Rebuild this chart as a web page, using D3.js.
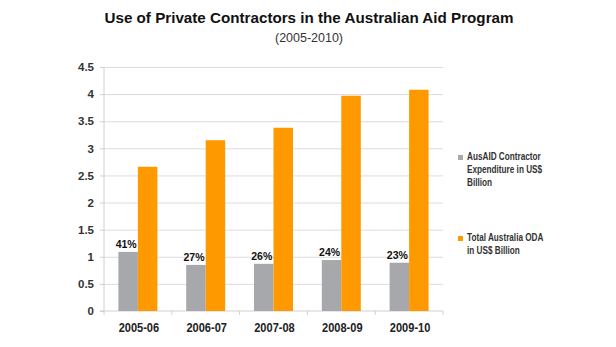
<!DOCTYPE html>
<html>
<head>
<meta charset="utf-8">
<script src="https://cdn.jsdelivr.net/npm/d3@7"></script>
<style>
  body { margin: 0; background: #fff; }
  text { font-family: "Liberation Sans", Arial, sans-serif; }
</style>
</head>
<body>
<div id="chart"></div>
<script>
// data
var years = ["2005-06", "2006-07", "2007-08", "2008-09", "2009-10"];
var contractor = [1.09, 0.85, 0.87, 0.94, 0.89];
var oda = [2.66, 3.15, 3.38, 3.97, 4.08];
var shares = ["41%", "27%", "26%", "24%", "23%"];
var yTicks = [0, 0.5, 1, 1.5, 2, 2.5, 3, 3.5, 4, 4.5];
var seriesNames = ["contractor", "oda"];
var legendLines = [
  ["AusAID Contractor", "Expenditure in US$", "Billion"],
  ["Total Australia ODA", "in US$ Billion"]
];

var grey = "#a7a8ab", orange = "#ff9900";

// squeeze text horizontally to mimic a condensed face
function squeeze(sel, k) {
  sel.each(function() {
    var w = this.getComputedTextLength();
    d3.select(this).attr("textLength", w * k).attr("lengthAdjust", "spacingAndGlyphs");
  });
}

// margins
var margin = {top: 67, right: 173, bottom: 36, left: 104},
    width = 616 - margin.left - margin.right,
    height = 347 - margin.top - margin.bottom;

var root = d3.select("#chart").append("svg")
    .attr("width", 616)
    .attr("height", 347);

// title
root.append("text")
    .attr("x", 309).attr("y", 23)
    .attr("text-anchor", "middle")
    .style("font-weight", "bold")
    .style("font-size", "15.5px")
    .attr("textLength", 409)
    .attr("lengthAdjust", "spacingAndGlyphs")
    .attr("fill", "#111")
    .text("Use of Private Contractors in the Australian Aid Program");

root.append("text")
    .attr("x", 309).attr("y", 42)
    .attr("text-anchor", "middle")
    .style("font-size", "12px")
    .attr("textLength", 68)
    .attr("lengthAdjust", "spacingAndGlyphs")
    .attr("fill", "#333")
    .text("(2005-2010)");

var svg = root.append("g")
    .attr("transform", "translate(" + margin.left + "," + margin.top + ")");

var x0 = d3.scaleBand()
    .domain(years)
    .range([0, width])
    .paddingInner(0.425)
    .paddingOuter(0.2125);

var x1 = d3.scaleBand()
    .domain(seriesNames)
    .range([0, x0.bandwidth()]);

var y = d3.scaleLinear()
    .domain([0, 4.5])
    .range([height, 0]);

// gridlines
svg.append("g")
    .attr("class", "grid")
    .call(d3.axisLeft(y).tickValues(yTicks.slice(1)).tickSize(-width).tickFormat(""))
    .call(function(g) { g.select(".domain").remove(); })
    .selectAll("line")
    .attr("stroke", "#dcdcdc");

// y axis
svg.append("g")
    .attr("class", "axis")
    .call(d3.axisLeft(y).tickValues(yTicks).tickSize(4).tickPadding(6)
      .tickFormat(function(d) { return String(d); }))
    .call(function(g) {
      g.select(".domain").attr("stroke", "#d0d0d0").attr("d", "M0,0V" + height);
      g.selectAll("line").attr("stroke", "#d0d0d0");
      g.selectAll("text")
        .style("font-family", '"Liberation Sans", Arial, sans-serif')
        .style("font-weight", "bold")
        .style("font-size", "11.5px")
        .attr("fill", "#333");
    });

// x axis: line, labels centred, ticks at band edges
var xAxis = svg.append("g")
    .attr("transform", "translate(0," + height + ")");

xAxis.append("line")
    .attr("x1", -4).attr("x2", width)
    .attr("stroke", "#d0d0d0");

xAxis.selectAll(".edge")
    .data(d3.range(years.length + 1))
    .enter().append("line")
    .attr("class", "edge")
    .attr("x1", function(i) { return i * x0.step(); })
    .attr("x2", function(i) { return i * x0.step(); })
    .attr("y1", 0).attr("y2", 4)
    .attr("stroke", "#d0d0d0");

xAxis.selectAll(".lab")
    .data(years)
    .enter().append("text")
    .attr("class", "lab")
    .attr("x", function(d) { return x0(d) + x0.bandwidth() / 2 + 1; })
    .attr("y", 21)
    .attr("text-anchor", "middle")
    .style("font-weight", "bold")
    .style("font-size", "12px")
    .attr("fill", "#222")
    .text(function(d) { return d; })
    .call(squeeze, 0.92);

// bars
var groups = svg.selectAll(".year")
    .data(years)
    .enter().append("g")
    .attr("class", "year")
    .attr("transform", function(d) { return "translate(" + x0(d) + ",0)"; });

groups.append("rect")
    .attr("x", x1("contractor"))
    .attr("width", x1.bandwidth())
    .attr("y", function(d, i) { return y(contractor[i]); })
    .attr("height", function(d, i) { return height - y(contractor[i]); })
    .attr("fill", grey);

groups.append("rect")
    .attr("x", x1("oda"))
    .attr("width", x1.bandwidth())
    .attr("y", function(d, i) { return y(oda[i]); })
    .attr("height", function(d, i) { return height - y(oda[i]); })
    .attr("fill", orange);

groups.append("text")
    .attr("x", x1("contractor") + x1.bandwidth() / 2 - 2)
    .attr("y", function(d, i) { return y(contractor[i]) - 4; })
    .attr("text-anchor", "middle")
    .style("font-weight", "bold")
    .style("font-size", "10.5px")
    .attr("fill", "#111")
    .text(function(d, i) { return shares[i]; })
    .call(squeeze, 1.0);

// legend
var legend = root.append("g")
    .attr("transform", "translate(458,0)");

var legendY = [160, 241];
var legendColors = [grey, orange];

legendLines.forEach(function(lines, k) {
  legend.append("rect")
      .attr("x", 0).attr("y", legendY[k] - 5)
      .attr("width", 5).attr("height", 5)
      .attr("fill", legendColors[k]);
  legend.selectAll(".l" + k)
      .data(lines)
      .enter().append("text")
      .attr("class", "l" + k)
      .attr("x", 9)
      .attr("y", function(d, i) { return legendY[k] + i * 13; })
      .style("font-weight", "bold")
      .style("font-size", "10.5px")
      .attr("fill", "#333")
      .text(function(d) { return d; })
      .call(squeeze, 0.78);
});
</script>
</body>
</html>
